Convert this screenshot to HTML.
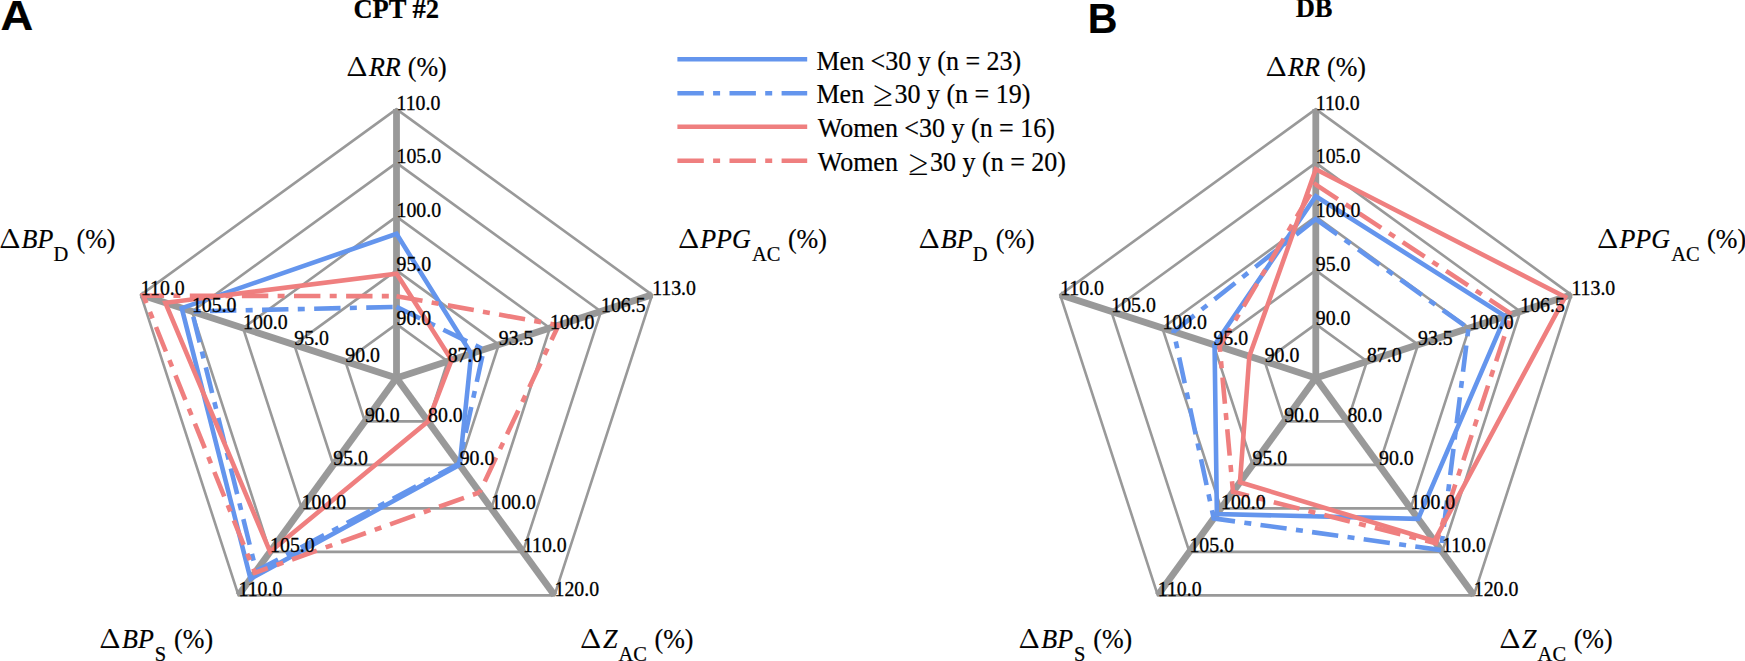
<!DOCTYPE html>
<html><head><meta charset="utf-8"><title>Radar charts</title>
<style>html,body{margin:0;padding:0;background:#fff;overflow:hidden}svg{display:block}</style>
</head><body>
<svg width="1745" height="661" viewBox="0 0 1745 661">
<style>
text{font-family:"Liberation Serif",serif;fill:#000;stroke:#000;stroke-width:0.2px}
.t{font-size:19.8px;stroke:#000;stroke-width:0.3px}
.ax{font-size:26px}
.i{font-style:italic}
.sub{font-size:20.5px}
.dl{font-family:"Noto Serif CJK SC","Liberation Serif",serif;font-size:26px}
.lg{font-size:26px}
.ge{font-family:"NanumGothic",sans-serif;font-size:28px}
.ttl{font-size:26.5px;font-weight:bold}
.pl{font-family:"Liberation Sans",sans-serif;font-size:42px;font-weight:bold}
</style>
<rect width="1745" height="661" fill="#fff"/>
<polygon points="396.50,324.14 447.63,361.29 428.10,421.39 364.90,421.39 345.37,361.29" fill="none" stroke="#999999" stroke-width="2.6" stroke-linejoin="round"/>
<polygon points="396.50,270.38 498.76,344.67 459.70,464.89 333.30,464.89 294.24,344.67" fill="none" stroke="#999999" stroke-width="2.6" stroke-linejoin="round"/>
<polygon points="396.50,216.62 549.89,328.06 491.30,508.38 301.70,508.38 243.11,328.06" fill="none" stroke="#999999" stroke-width="2.6" stroke-linejoin="round"/>
<polygon points="396.50,162.86 601.02,311.45 522.90,551.87 270.10,551.87 191.98,311.45" fill="none" stroke="#999999" stroke-width="2.6" stroke-linejoin="round"/>
<polygon points="396.50,109.10 652.14,294.84 554.50,595.36 238.50,595.36 140.86,294.84" fill="none" stroke="#999999" stroke-width="2.6" stroke-linejoin="round"/>
<line x1="396.50" y1="377.90" x2="396.50" y2="109.10" stroke="#999999" stroke-width="6.8"/>
<line x1="396.50" y1="377.90" x2="652.14" y2="294.84" stroke="#999999" stroke-width="6.8"/>
<line x1="396.50" y1="377.90" x2="554.50" y2="595.36" stroke="#999999" stroke-width="6.8"/>
<line x1="396.50" y1="377.90" x2="238.50" y2="595.36" stroke="#999999" stroke-width="6.8"/>
<line x1="396.50" y1="377.90" x2="140.86" y2="294.84" stroke="#999999" stroke-width="6.8"/>
<polygon points="1315.80,324.14 1366.93,361.29 1347.40,421.39 1284.20,421.39 1264.67,361.29" fill="none" stroke="#999999" stroke-width="2.6" stroke-linejoin="round"/>
<polygon points="1315.80,270.38 1418.06,344.67 1379.00,464.89 1252.60,464.89 1213.54,344.67" fill="none" stroke="#999999" stroke-width="2.6" stroke-linejoin="round"/>
<polygon points="1315.80,216.62 1469.19,328.06 1410.60,508.38 1221.00,508.38 1162.41,328.06" fill="none" stroke="#999999" stroke-width="2.6" stroke-linejoin="round"/>
<polygon points="1315.80,162.86 1520.32,311.45 1442.20,551.87 1189.40,551.87 1111.28,311.45" fill="none" stroke="#999999" stroke-width="2.6" stroke-linejoin="round"/>
<polygon points="1315.80,109.10 1571.44,294.84 1473.80,595.36 1157.80,595.36 1060.16,294.84" fill="none" stroke="#999999" stroke-width="2.6" stroke-linejoin="round"/>
<line x1="1315.80" y1="377.90" x2="1315.80" y2="109.10" stroke="#999999" stroke-width="6.8"/>
<line x1="1315.80" y1="377.90" x2="1571.44" y2="294.84" stroke="#999999" stroke-width="6.8"/>
<line x1="1315.80" y1="377.90" x2="1473.80" y2="595.36" stroke="#999999" stroke-width="6.8"/>
<line x1="1315.80" y1="377.90" x2="1157.80" y2="595.36" stroke="#999999" stroke-width="6.8"/>
<line x1="1315.80" y1="377.90" x2="1060.16" y2="294.84" stroke="#999999" stroke-width="6.8"/>
<polygon points="396.50,233.82 471.23,353.62 459.70,464.89 250.51,578.84 181.76,308.13" fill="none" stroke="#6495ED" stroke-width="4.6" stroke-linejoin="miter"/>
<g fill="none" stroke="#6495ED" stroke-width="4.6" stroke-dasharray="26.4 9.3 7.0 9.4">
<line x1="396.50" y1="306.94" x2="483.81" y2="349.53" stroke-dashoffset="0"/>
<line x1="483.81" y1="349.53" x2="458.91" y2="463.80" stroke-dashoffset="45.4"/>
<line x1="458.91" y1="463.80" x2="256.20" y2="571.01" stroke-dashoffset="3.8"/>
<line x1="256.20" y1="571.01" x2="191.98" y2="311.45" stroke-dashoffset="25.0"/>
<line x1="191.98" y1="311.45" x2="396.50" y2="306.94" stroke-dashoffset="34.1"/>
</g>
<polyline points="459.12,462.82 458.91,463.80 458.02,464.27" fill="none" stroke="#6495ED" stroke-width="4.6" stroke-linejoin="miter"/>
<polyline points="257.08,570.54 256.20,571.01 255.96,570.04" fill="none" stroke="#6495ED" stroke-width="4.6" stroke-linejoin="miter"/>
<polygon points="396.50,273.61 451.56,360.01 428.10,421.39 270.10,551.87 165.40,302.81" fill="none" stroke="#EF7F7F" stroke-width="4.6" stroke-linejoin="miter"/>
<g fill="none" stroke="#EF7F7F" stroke-width="4.6" stroke-dasharray="26.4 9.3 7.0 9.4">
<line x1="396.50" y1="296.18" x2="558.54" y2="325.25" stroke-dashoffset="0"/>
<line x1="558.54" y1="325.25" x2="479.61" y2="492.29" stroke-dashoffset="10.0"/>
<line x1="479.61" y1="492.29" x2="254.93" y2="572.75" stroke-dashoffset="35.5"/>
<line x1="254.93" y1="572.75" x2="143.41" y2="295.67" stroke-dashoffset="22.0"/>
<line x1="143.41" y1="295.67" x2="396.50" y2="296.18" stroke-dashoffset="5.7"/>
</g>
<polyline points="557.55,325.07 558.54,325.25 558.11,326.15" fill="none" stroke="#EF7F7F" stroke-width="4.6" stroke-linejoin="miter"/>
<polyline points="255.88,572.41 254.93,572.75 254.56,571.82" fill="none" stroke="#EF7F7F" stroke-width="4.6" stroke-linejoin="miter"/>
<polyline points="143.79,296.59 143.41,295.67 144.41,295.67" fill="none" stroke="#EF7F7F" stroke-width="4.6" stroke-linejoin="miter"/>
<polygon points="1315.80,196.19 1505.37,316.31 1418.18,518.82 1216.89,514.03 1214.56,345.01" fill="none" stroke="#6495ED" stroke-width="4.6" stroke-linejoin="miter"/>
<g fill="none" stroke="#6495ED" stroke-width="4.6" stroke-dasharray="26.4 9.3 7.0 9.4">
<line x1="1315.80" y1="219.09" x2="1468.40" y2="328.32" stroke-dashoffset="0"/>
<line x1="1468.40" y1="328.32" x2="1440.93" y2="550.13" stroke-dashoffset="34.8"/>
<line x1="1440.93" y1="550.13" x2="1213.73" y2="518.38" stroke-dashoffset="0.5"/>
<line x1="1213.73" y1="518.38" x2="1173.66" y2="331.72" stroke-dashoffset="18.1"/>
<line x1="1173.66" y1="331.72" x2="1315.80" y2="219.09" stroke-dashoffset="0.0"/>
</g>
<polyline points="1315.02,219.71 1315.80,219.09 1316.61,219.67" fill="none" stroke="#6495ED" stroke-width="4.6" stroke-linejoin="miter"/>
<polyline points="1214.72,518.52 1213.73,518.38 1213.52,517.40" fill="none" stroke="#6495ED" stroke-width="4.6" stroke-linejoin="miter"/>
<polyline points="1173.87,332.69 1173.66,331.72 1174.45,331.10" fill="none" stroke="#6495ED" stroke-width="4.6" stroke-linejoin="miter"/>
<polygon points="1315.80,169.31 1565.15,296.88 1434.30,541.00 1239.96,482.28 1249.33,356.30" fill="none" stroke="#EF7F7F" stroke-width="4.6" stroke-linejoin="miter"/>
<g fill="none" stroke="#EF7F7F" stroke-width="4.6" stroke-dasharray="26.4 9.3 7.0 9.4">
<line x1="1315.80" y1="184.58" x2="1511.66" y2="314.26" stroke-dashoffset="0"/>
<line x1="1511.66" y1="314.26" x2="1435.88" y2="543.17" stroke-dashoffset="29.0"/>
<line x1="1435.88" y1="543.17" x2="1233.01" y2="491.85" stroke-dashoffset="15.5"/>
<line x1="1233.01" y1="491.85" x2="1219.68" y2="346.67" stroke-dashoffset="15.7"/>
<line x1="1219.68" y1="346.67" x2="1315.80" y2="184.58" stroke-dashoffset="5.2"/>
</g>
<polyline points="1315.29,185.44 1315.80,184.58 1316.63,185.13" fill="none" stroke="#EF7F7F" stroke-width="4.6" stroke-linejoin="miter"/>
<polyline points="1436.19,542.22 1435.88,543.17 1434.91,542.93" fill="none" stroke="#EF7F7F" stroke-width="4.6" stroke-linejoin="miter"/>
<polyline points="1233.98,492.10 1233.01,491.85 1232.92,490.86" fill="none" stroke="#EF7F7F" stroke-width="4.6" stroke-linejoin="miter"/>
<polyline points="1219.77,347.66 1219.68,346.67 1220.19,345.81" fill="none" stroke="#EF7F7F" stroke-width="4.6" stroke-linejoin="miter"/>
<text class="t" transform="translate(396.50,324.64) scale(1,1.06)">90.0</text>
<text class="t" transform="translate(396.50,270.88) scale(1,1.06)">95.0</text>
<text class="t" transform="translate(396.50,217.12) scale(1,1.06)">100.0</text>
<text class="t" transform="translate(396.50,163.36) scale(1,1.06)">105.0</text>
<text class="t" transform="translate(396.50,109.60) scale(1,1.06)">110.0</text>
<text class="t" transform="translate(447.63,361.79) scale(1,1.06)">87.0</text>
<text class="t" transform="translate(498.76,345.17) scale(1,1.06)">93.5</text>
<text class="t" transform="translate(549.89,328.56) scale(1,1.06)">100.0</text>
<text class="t" transform="translate(601.02,311.95) scale(1,1.06)">106.5</text>
<text class="t" transform="translate(652.14,295.34) scale(1,1.06)">113.0</text>
<text class="t" transform="translate(428.10,421.89) scale(1,1.06)">80.0</text>
<text class="t" transform="translate(459.70,465.39) scale(1,1.06)">90.0</text>
<text class="t" transform="translate(491.30,508.88) scale(1,1.06)">100.0</text>
<text class="t" transform="translate(522.90,552.37) scale(1,1.06)">110.0</text>
<text class="t" transform="translate(554.50,595.86) scale(1,1.06)">120.0</text>
<text class="t" transform="translate(364.90,421.89) scale(1,1.06)">90.0</text>
<text class="t" transform="translate(333.30,465.39) scale(1,1.06)">95.0</text>
<text class="t" transform="translate(301.70,508.88) scale(1,1.06)">100.0</text>
<text class="t" transform="translate(270.10,552.37) scale(1,1.06)">105.0</text>
<text class="t" transform="translate(238.50,595.86) scale(1,1.06)">110.0</text>
<text class="t" transform="translate(345.37,361.79) scale(1,1.06)">90.0</text>
<text class="t" transform="translate(294.24,345.17) scale(1,1.06)">95.0</text>
<text class="t" transform="translate(243.11,328.56) scale(1,1.06)">100.0</text>
<text class="t" transform="translate(191.98,311.95) scale(1,1.06)">105.0</text>
<text class="t" transform="translate(140.86,295.34) scale(1,1.06)">110.0</text>
<text class="t" transform="translate(1315.80,324.64) scale(1,1.06)">90.0</text>
<text class="t" transform="translate(1315.80,270.88) scale(1,1.06)">95.0</text>
<text class="t" transform="translate(1315.80,217.12) scale(1,1.06)">100.0</text>
<text class="t" transform="translate(1315.80,163.36) scale(1,1.06)">105.0</text>
<text class="t" transform="translate(1315.80,109.60) scale(1,1.06)">110.0</text>
<text class="t" transform="translate(1366.93,361.79) scale(1,1.06)">87.0</text>
<text class="t" transform="translate(1418.06,345.17) scale(1,1.06)">93.5</text>
<text class="t" transform="translate(1469.19,328.56) scale(1,1.06)">100.0</text>
<text class="t" transform="translate(1520.32,311.95) scale(1,1.06)">106.5</text>
<text class="t" transform="translate(1571.44,295.34) scale(1,1.06)">113.0</text>
<text class="t" transform="translate(1347.40,421.89) scale(1,1.06)">80.0</text>
<text class="t" transform="translate(1379.00,465.39) scale(1,1.06)">90.0</text>
<text class="t" transform="translate(1410.60,508.88) scale(1,1.06)">100.0</text>
<text class="t" transform="translate(1442.20,552.37) scale(1,1.06)">110.0</text>
<text class="t" transform="translate(1473.80,595.86) scale(1,1.06)">120.0</text>
<text class="t" transform="translate(1284.20,421.89) scale(1,1.06)">90.0</text>
<text class="t" transform="translate(1252.60,465.39) scale(1,1.06)">95.0</text>
<text class="t" transform="translate(1221.00,508.88) scale(1,1.06)">100.0</text>
<text class="t" transform="translate(1189.40,552.37) scale(1,1.06)">105.0</text>
<text class="t" transform="translate(1157.80,595.86) scale(1,1.06)">110.0</text>
<text class="t" transform="translate(1264.67,361.79) scale(1,1.06)">90.0</text>
<text class="t" transform="translate(1213.54,345.17) scale(1,1.06)">95.0</text>
<text class="t" transform="translate(1162.41,328.56) scale(1,1.06)">100.0</text>
<text class="t" transform="translate(1111.28,311.95) scale(1,1.06)">105.0</text>
<text class="t" transform="translate(1060.16,295.34) scale(1,1.06)">110.0</text>
<text class="dl" transform="translate(346.30,75.90) scale(1.2,1.008)">&#916;</text>
<text class="ax i" transform="translate(368.90,75.90) scale(1,1.05)">RR</text>
<text class="ax" transform="translate(407.80,75.90) scale(1,1.05)">(%)</text>
<text class="dl" transform="translate(677.90,248.30) scale(1.2,1.008)">&#916;</text>
<text class="ax i" transform="translate(700.20,248.30) scale(1,1.05)">PPG</text>
<text class="sub" transform="translate(752.00,260.90) scale(1,1.05)">AC</text>
<text class="ax" transform="translate(787.90,248.30) scale(1,1.05)">(%)</text>
<text class="dl" transform="translate(-0.70,247.60) scale(1.2,1.008)">&#916;</text>
<text class="ax i" transform="translate(21.60,247.60) scale(1,1.05)">BP</text>
<text class="sub" transform="translate(53.50,261.20) scale(1,1.05)">D</text>
<text class="ax" transform="translate(76.50,247.60) scale(1,1.05)">(%)</text>
<text class="dl" transform="translate(99.30,647.50) scale(1.2,1.008)">&#916;</text>
<text class="ax i" transform="translate(122.10,647.50) scale(1,1.05)">BP</text>
<text class="sub" transform="translate(154.80,661.00) scale(1,1.05)">S</text>
<text class="ax" transform="translate(174.10,647.50) scale(1,1.05)">(%)</text>
<text class="dl" transform="translate(580.10,647.50) scale(1.2,1.008)">&#916;</text>
<text class="ax i" transform="translate(602.90,647.50) scale(1,1.05)">Z</text>
<text class="sub" transform="translate(618.40,660.50) scale(1,1.05)">AC</text>
<text class="ax" transform="translate(654.50,647.50) scale(1,1.05)">(%)</text>
<text class="dl" transform="translate(1265.50,75.90) scale(1.2,1.008)">&#916;</text>
<text class="ax i" transform="translate(1288.10,75.90) scale(1,1.05)">RR</text>
<text class="ax" transform="translate(1327.00,75.90) scale(1,1.05)">(%)</text>
<text class="dl" transform="translate(1597.10,248.30) scale(1.2,1.008)">&#916;</text>
<text class="ax i" transform="translate(1619.40,248.30) scale(1,1.05)">PPG</text>
<text class="sub" transform="translate(1671.20,260.90) scale(1,1.05)">AC</text>
<text class="ax" transform="translate(1707.10,248.30) scale(1,1.05)">(%)</text>
<text class="dl" transform="translate(918.50,247.60) scale(1.2,1.008)">&#916;</text>
<text class="ax i" transform="translate(940.80,247.60) scale(1,1.05)">BP</text>
<text class="sub" transform="translate(972.70,261.20) scale(1,1.05)">D</text>
<text class="ax" transform="translate(995.70,247.60) scale(1,1.05)">(%)</text>
<text class="dl" transform="translate(1018.50,647.50) scale(1.2,1.008)">&#916;</text>
<text class="ax i" transform="translate(1041.30,647.50) scale(1,1.05)">BP</text>
<text class="sub" transform="translate(1074.00,661.00) scale(1,1.05)">S</text>
<text class="ax" transform="translate(1093.30,647.50) scale(1,1.05)">(%)</text>
<text class="dl" transform="translate(1499.30,647.50) scale(1.2,1.008)">&#916;</text>
<text class="ax i" transform="translate(1522.10,647.50) scale(1,1.05)">Z</text>
<text class="sub" transform="translate(1537.60,660.50) scale(1,1.05)">AC</text>
<text class="ax" transform="translate(1573.70,647.50) scale(1,1.05)">(%)</text>
<line x1="677.4" y1="59.3" x2="807.2" y2="59.3" stroke="#6495ED" stroke-width="4.6"/>
<line x1="677.4" y1="93.2" x2="807.2" y2="93.2" stroke="#6495ED" stroke-width="4.6" stroke-dasharray="26.4 9.3 7.0 9.4"/>
<line x1="677.4" y1="126.8" x2="807.2" y2="126.8" stroke="#EF7F7F" stroke-width="4.6"/>
<line x1="677.4" y1="160.7" x2="807.2" y2="160.7" stroke="#EF7F7F" stroke-width="4.6" stroke-dasharray="26.4 9.3 7.0 9.4"/>
<text class="lg" transform="translate(816.50,69.90) scale(1,1.05)">Men &lt;30 y (n = 23)</text>
<text class="lg" transform="translate(816.50,102.50) scale(1,1.05)">Men <tspan x="56.80" dy="3.4" class="ge">&#8805;</tspan><tspan x="78.00" dy="-3.4">30 y (n = 19)</tspan></text>
<text class="lg" transform="translate(817.70,136.60) scale(1,1.05)">Women &lt;30 y (n = 16)</text>
<text class="lg" transform="translate(817.70,171.00) scale(1,1.05)">Women <tspan x="91.10" dy="3.4" class="ge">&#8805;</tspan><tspan x="112.40" dy="-3.4">30 y (n = 20)</tspan></text>
<text class="pl" transform="translate(0.6,30.3) scale(1.08,1.034)">A</text>
<text class="pl" transform="translate(1087.75,33.0) scale(0.98,1.034)">B</text>
<text x="396.3" y="17.9" class="ttl" text-anchor="middle">CPT #2</text>
<text x="1314.1" y="17.3" class="ttl" text-anchor="middle">DB</text>
</svg>
</body></html>
